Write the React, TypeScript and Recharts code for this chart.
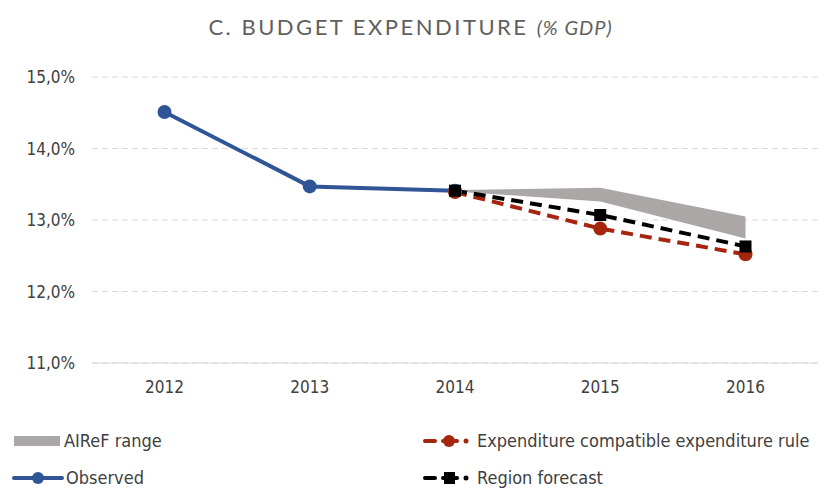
import React from 'react';
import {
  ComposedChart,
  Line,
  Area,
  XAxis,
  YAxis,
  CartesianGrid,
} from 'recharts';

const years = ['2012', '2013', '2014', '2015', '2016'];
const observed = [14.51, 13.47, 13.41, null, null];
const ruleCompatible = [null, null, 13.39, 12.88, 12.52];
const regionForecast = [null, null, 13.41, 13.07, 12.63];
const airefLow = [null, null, 13.4, 13.26, 12.74];
const airefHigh = [null, null, 13.42, 13.45, 13.05];
const yTicks = [11, 12, 13, 14, 15];

const data = years.map((year, i) => ({
  year,
  observed: observed[i],
  rule: ruleCompatible[i],
  forecast: regionForecast[i],
  range: airefLow[i] == null ? null : [airefLow[i], airefHigh[i]],
}));

const BLUE = '#2f5597';
const RED = '#a5260f';
const GREY = '#aba7a6';
const FONT = '"Liberation Sans Narrow", "DejaVu Sans Condensed", sans-serif';

const fmt = (v: number) => v.toFixed(1).replace('.', ',') + '%';

const SquareDot = (props: any) => {
  const { cx, cy } = props;
  if (cx == null || cy == null) return null;
  return <rect x={cx - 6} y={cy - 6} width={12} height={12} fill="#000" />;
};

function LegendIcon({ kind }: { kind: string }) {
  if (kind === 'range') {
    return (
      <svg width={50} height={14}>
        <rect x={2} y={2} width={46} height={10} fill={GREY} />
      </svg>
    );
  }
  if (kind === 'observed') {
    return (
      <svg width={52} height={14}>
        <line x1={2} y1={7} x2={50} y2={7} stroke={BLUE} strokeWidth={4} strokeLinecap="round" />
        <circle cx={26} cy={7} r={6} fill={BLUE} />
      </svg>
    );
  }
  const color = kind === 'rule' ? RED : '#000';
  return (
    <svg width={52} height={14}>
      <line x1={2} y1={7} x2={12} y2={7} stroke={color} strokeWidth={4} strokeLinecap="round" />
      <line x1={20} y1={7} x2={34} y2={7} stroke={color} strokeWidth={4} strokeLinecap="round" />
      <circle cx={43} cy={7} r={2.5} fill={color} />
      {kind === 'rule' ? (
        <circle cx={26} cy={7} r={6} fill={color} />
      ) : (
        <rect x={21} y={1} width={11} height={12} fill={color} />
      )}
    </svg>
  );
}

function LegendItem({ kind, label, left, top }: { kind: string; label: string; left: number; top: number }) {
  return (
    <div
      style={{
        position: 'absolute',
        left,
        top,
        display: 'flex',
        alignItems: 'center',
        gap: 2,
        fontFamily: FONT,
        fontSize: 18,
        color: '#404040',
        whiteSpace: 'nowrap',
      }}
    >
      <LegendIcon kind={kind} />
      <span>{label}</span>
    </div>
  );
}

export default function App() {
  return (
    <div style={{ position: 'absolute', left: 0, top: 0, width: 821, height: 491, background: '#fff' }}>
      <div
        style={{
          position: 'absolute',
          left: 0,
          top: 13,
          width: 821,
          textAlign: 'center',
          fontFamily: 'Lato, "Open Sans", sans-serif',
          fontSize: 22,
          letterSpacing: 2.5,
          color: '#606060',
        }}
      >
        C. BUDGET EXPENDITURE <i style={{ fontSize: 20, letterSpacing: 1 }}>(% GDP)</i>
      </div>
      <ComposedChart
        width={821}
        height={491}
        data={data}
        margin={{ top: 77, right: 3, left: 0, bottom: 98 }}
      >
        <CartesianGrid vertical={false} stroke="#d9d9d9" strokeDasharray="6 4" />
        <XAxis
          dataKey="year"
          axisLine={{ stroke: '#d9d9d9' }}
          tickLine={false}
          tickSize={0}
          tickMargin={18}
          height={30}
          padding={{ left: 72.5, right: 72.5 }}
          tick={{ fill: '#404040', fontSize: 17, fontFamily: FONT }}
        />
        <YAxis
          domain={[11, 15]}
          ticks={yTicks}
          axisLine={false}
          tickLine={false}
          tickSize={0}
          tickMargin={17}
          width={92}
          tickFormatter={fmt}
          tick={{ fill: '#404040', fontSize: 17, fontFamily: FONT }}
        />
        <Area
          dataKey="range"
          stroke="none"
          fill={GREY}
          fillOpacity={1}
          isAnimationActive={false}
          connectNulls={false}
        />
        <Line
          dataKey="observed"
          stroke={BLUE}
          strokeWidth={4}
          dot={{ r: 7, fill: BLUE, stroke: BLUE, strokeWidth: 0 }}
          isAnimationActive={false}
        />
        <Line
          dataKey="rule"
          stroke={RED}
          strokeWidth={4}
          strokeDasharray="12 7"
          dot={{ r: 7, fill: RED, stroke: RED, strokeWidth: 0 }}
          isAnimationActive={false}
        />
        <Line
          dataKey="forecast"
          stroke="#000"
          strokeWidth={4}
          strokeDasharray="12 7"
          dot={<SquareDot />}
          isAnimationActive={false}
        />
      </ComposedChart>
      <LegendItem kind="range" label="AIReF range" left={12} top={430} />
      <LegendItem kind="rule" label="Expenditure compatible expenditure rule" left={423} top={430} />
      <LegendItem kind="observed" label="Observed" left={12} top={467} />
      <LegendItem kind="rule-black" label="Region forecast" left={423} top={467} />
    </div>
  );
}
